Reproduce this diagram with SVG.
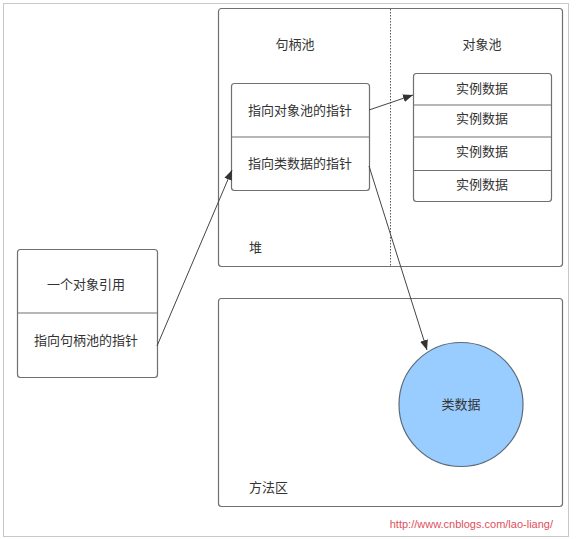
<svg xmlns="http://www.w3.org/2000/svg" width="581" height="539" viewBox="0 0 581 539">
<defs>
<style>
.box{fill:#fff;stroke:#707070;stroke-width:1.2}
.div{stroke:#707070;stroke-width:1.2}
.t{font-family:"Noto Sans CJK SC","Noto Sans",sans-serif;font-size:13px;fill:#333;text-anchor:middle;dominant-baseline:central}
.tl{font-family:"Noto Sans CJK SC","Noto Sans",sans-serif;font-size:13px;fill:#333;dominant-baseline:central}
.c{stroke:#444;stroke-width:1;fill:none;marker-end:url(#ah)}
</style>
<marker id="ah" viewBox="0 0 10 10" refX="10" refY="5" markerWidth="10" markerHeight="10" markerUnits="userSpaceOnUse" orient="auto">
<path d="M0,1 L10,5 L0,9 Z" fill="#333"/>
</marker>
</defs>
<rect x="0" y="0" width="581" height="539" fill="#fff"/>
<rect x="3.5" y="3.5" width="565" height="533" fill="none" stroke="#c8c8c8"/>
<g id="heap">
<rect class="box" x="218.5" y="8.5" width="344" height="258" rx="3"/>
<line x1="390.5" y1="9" x2="390.5" y2="266" stroke="#555" stroke-dasharray="1.5,1.5"/>
<text class="t" x="295" y="43">句柄池</text>
<text class="t" x="482" y="43">对象池</text>
<text class="tl" x="249" y="246">堆</text>
</g>
<g id="handle">
<rect class="box" x="231.5" y="83.5" width="138" height="107" rx="3"/>
<line class="div" x1="232" y1="137" x2="369" y2="137"/>
<text class="t" x="300" y="109">指向对象池的指针</text>
<text class="t" x="300" y="162">指向类数据的指针</text>
</g>
<g id="objpool">
<rect class="box" x="413.5" y="73.5" width="138" height="128" rx="3"/>
<line class="div" x1="414" y1="105" x2="551" y2="105"/>
<line class="div" x1="414" y1="137" x2="551" y2="137"/>
<line class="div" x1="414" y1="170.5" x2="551" y2="170.5"/>
<text class="t" x="482" y="87">实例数据</text>
<text class="t" x="482" y="117">实例数据</text>
<text class="t" x="482" y="150">实例数据</text>
<text class="t" x="482" y="183">实例数据</text>
</g>
<g id="ref">
<rect class="box" x="17.5" y="249.5" width="140" height="128" rx="3"/>
<line class="div" x1="18" y1="313" x2="157" y2="313"/>
<text class="t" x="86" y="283">一个对象引用</text>
<text class="t" x="86" y="339">指向句柄池的指针</text>
</g>
<g id="method">
<rect class="box" x="218.5" y="298.5" width="344" height="208" rx="3"/>
<text class="tl" x="249" y="486">方法区</text>
</g>
<g id="classdata">
<circle cx="461" cy="404.5" r="62" fill="#99ccff" stroke="#5a6a78" stroke-width="1.2"/>
<text class="t" x="461" y="403">类数据</text>
</g>
<g id="connectors">
<path class="c" d="M157,346 L232,170"/>
<path class="c" d="M369,110 L413,95"/>
<path class="c" d="M369,166 L427,350"/>
</g>
<text x="553" y="524" font-family="Liberation Sans, Arial, sans-serif" font-size="11" fill="#e0505a" text-anchor="end" dominant-baseline="central">http://www.cnblogs.com/lao-liang/</text>
</svg>
